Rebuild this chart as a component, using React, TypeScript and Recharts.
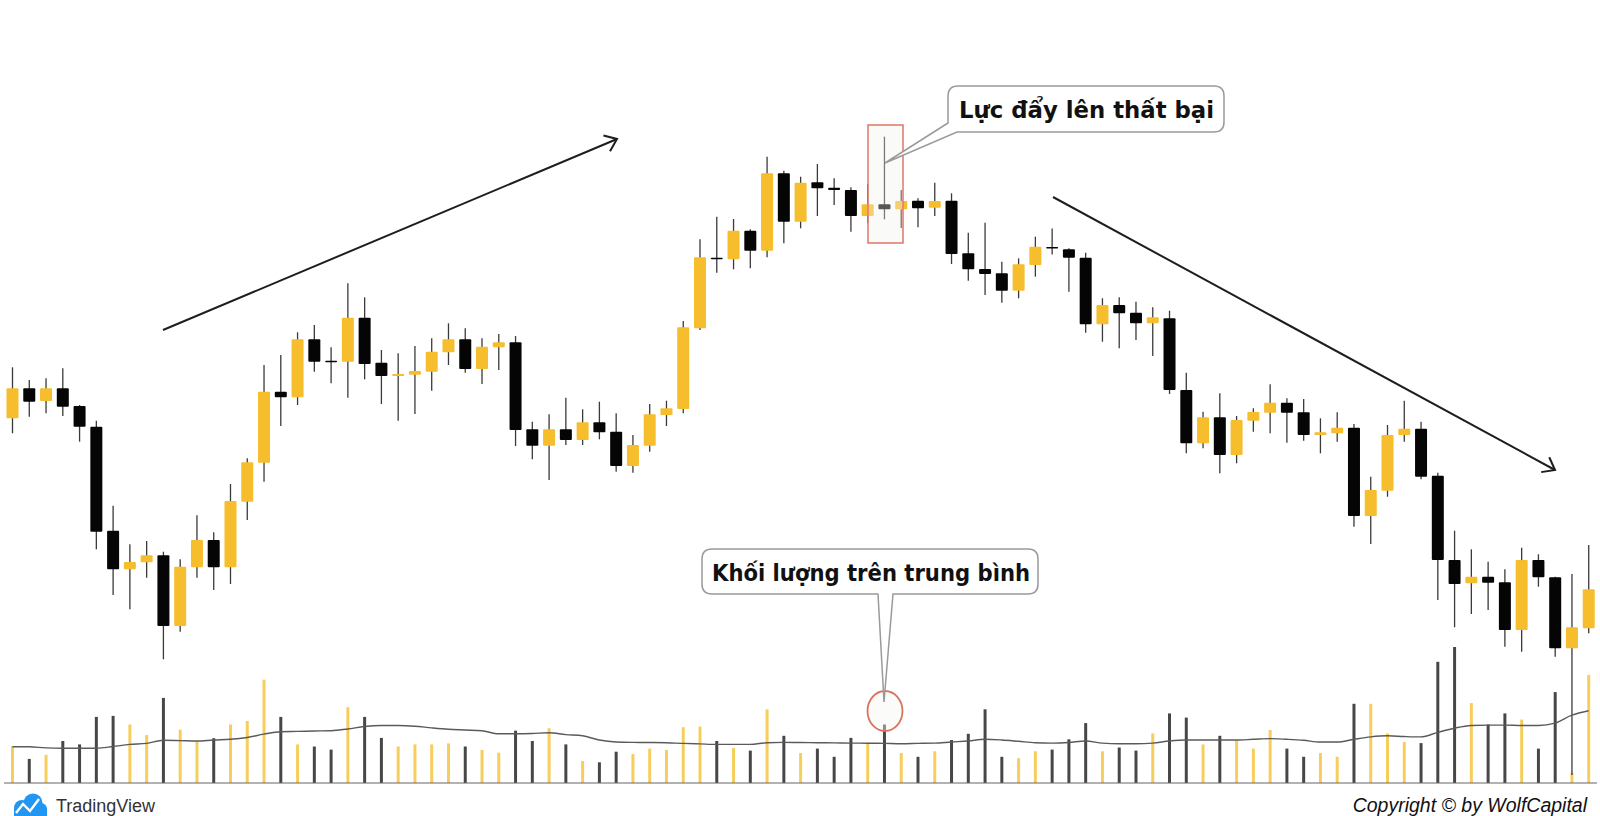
import { ComposedChart, Bar, Line, XAxis, YAxis, Cell, ReferenceLine } from 'recharts';

// one entry per session (price units, volume in lots)
const labels = Array.from({ length: 95 }, (_, i) => `${i + 1}`);

const opens = [
  38.17, 41.17, 39.9, 41.17, 39.4, 37.33, 26.93, 23.07, 23.77, 24.47, 17.4, 23.27, 26.0, 23.27, 29.83, 33.73,
  40.83, 40.27, 46.07, 43.93, 43.83, 48.23, 43.73, 42.4, 42.53, 42.83, 44.77, 46.07, 43.1, 45.27, 45.77, 37.07,
  35.43, 37.07, 36.0, 37.77, 36.83, 33.4, 35.43, 38.5, 39.1, 47.17, 54.23, 54.07, 56.93, 54.93, 62.67, 57.83,
  61.77, 61.23, 61.0, 58.4, 59.57, 59.07, 59.93, 59.23, 59.93, 54.67, 53.1, 52.67, 50.93, 53.5, 55.3, 55.07,
  54.23, 47.57, 49.5, 48.73, 47.67, 48.17, 41.0, 35.67, 38.27, 34.5, 37.93, 38.73, 39.73, 38.77, 36.5, 36.67,
  37.23, 28.4, 30.93, 36.5, 37.13, 32.43, 24.0, 21.67, 22.33, 21.77, 17.0, 24.0, 22.27, 15.17, 17.17,
];
const highs = [
  43.27, 42.0, 42.17, 43.17, 39.5, 37.93, 29.43, 25.57, 25.9, 24.83, 24.07, 28.47, 26.77, 31.6, 34.17, 43.5,
  44.5, 46.77, 47.5, 45.27, 51.67, 50.27, 45.0, 44.67, 45.4, 46.17, 47.67, 47.17, 46.17, 46.6, 46.4, 37.83,
  38.57, 40.23, 39.07, 39.83, 38.67, 36.5, 39.6, 39.93, 47.9, 56.07, 58.33, 58.1, 57.07, 64.33, 62.93, 62.33,
  63.6, 62.17, 61.27, 61.6, 66.33, 61.0, 60.17, 61.73, 60.67, 56.73, 57.73, 53.83, 54.17, 56.33, 57.15, 55.17,
  54.73, 50.17, 50.27, 49.83, 49.27, 48.93, 42.73, 38.83, 40.67, 38.4, 39.17, 41.57, 40.17, 40.1, 38.17, 38.77,
  37.6, 32.33, 37.5, 39.93, 37.83, 32.73, 26.93, 25.07, 23.83, 23.07, 25.23, 24.57, 22.33, 22.6, 25.5,
];
const lows = [
  36.67, 38.33, 38.67, 38.4, 35.83, 25.07, 20.5, 19.07, 22.23, 14.07, 16.83, 22.23, 21.0, 21.6, 28.0, 31.83,
  37.4, 39.5, 42.83, 41.67, 40.23, 42.07, 39.6, 37.93, 38.6, 40.93, 43.5, 42.73, 41.6, 43.0, 35.4, 34.07,
  32.0, 35.5, 35.5, 36.07, 32.83, 32.73, 34.83, 37.4, 38.67, 47.0, 52.73, 53.07, 53.17, 54.27, 55.67, 57.17,
  58.4, 59.5, 56.83, 57.7, 58.07, 57.2, 57.27, 58.4, 53.6, 51.93, 50.5, 49.73, 50.17, 52.33, 54.55, 50.83,
  46.73, 45.83, 45.17, 46.0, 44.4, 40.6, 34.67, 35.17, 32.67, 33.67, 36.83, 36.67, 35.73, 35.93, 34.67, 35.83,
  27.33, 25.6, 30.33, 35.83, 32.07, 20.0, 17.27, 18.6, 19.0, 15.33, 14.83, 21.33, 14.33, 2.5, 16.67,
];
const closes = [
  41.17, 39.83, 41.17, 39.33, 37.33, 26.83, 23.07, 23.8, 24.47, 17.4, 23.33, 26.0, 23.27, 29.9, 33.77, 40.83,
  40.27, 46.07, 43.83, 43.9, 48.23, 43.6, 42.4, 42.6, 42.9, 44.83, 46.07, 43.1, 45.33, 45.77, 37.0, 35.43,
  37.07, 36.0, 37.77, 36.77, 33.4, 35.5, 38.57, 39.17, 47.27, 54.27, 54.13, 56.93, 54.93, 62.67, 57.83, 61.73,
  61.17, 61.0, 58.4, 59.57, 59.07, 59.9, 59.17, 59.9, 54.6, 53.07, 52.6, 50.93, 53.57, 55.33, 55.17, 54.23,
  47.57, 49.5, 48.67, 47.67, 48.27, 41.0, 35.67, 38.27, 34.5, 38.0, 38.8, 39.73, 38.73, 36.5, 36.77, 37.23,
  28.4, 31.0, 36.5, 37.13, 32.33, 24.0, 21.6, 22.33, 21.73, 17.0, 24.0, 22.27, 15.17, 17.27, 21.07,
];
const volumes = [
  368, 241, 282, 420, 386, 661, 671, 585, 479, 851, 534, 420, 448, 585, 620, 1033,
  661, 386, 365, 334, 758, 661, 451, 365, 386, 386, 396, 365, 331, 303, 523, 420,
  548, 386, 220, 207, 313, 289, 344, 331, 558, 565, 420, 351, 324, 737, 472, 300,
  344, 262, 451, 396, 585, 300, 262, 317, 430, 492, 737, 262, 248, 317, 334, 437,
  599, 317, 355, 324, 496, 696, 654, 386, 472, 427, 344, 530, 344, 262, 300, 262,
  792, 792, 496, 410, 399, 1212, 1360, 799, 585, 696, 634, 344, 909, 103, 1081,
];
// volume moving average as drawn on the chart
const volumeMA = [
  362, 362, 351, 348, 348, 348, 365, 386, 396, 427, 424, 420, 430, 437, 455, 489,
  513, 516, 520, 523, 540, 565, 575, 575, 568, 551, 537, 530, 523, 492, 492, 495,
  503, 484, 472, 430, 410, 406, 405, 403, 396, 391, 386, 386, 386, 403, 406, 405,
  403, 401, 399, 398, 396, 393, 396, 399, 410, 420, 437, 430, 417, 403, 399, 405,
  420, 399, 393, 393, 399, 420, 430, 430, 430, 430, 437, 444, 437, 427, 410, 410,
  437, 461, 472, 465, 461, 506, 548, 575, 579, 579, 575, 575, 599, 678, 723,
];

const UP = '#f6bd2c';
const DOWN = '#050505';
const VOL_UP = '#f7cd5c';
const VOL_DOWN = '#474747';

const data = labels.map((t, i) => ({
  t,
  open: opens[i],
  high: highs[i],
  low: lows[i],
  close: closes[i],
  range: [lows[i], highs[i]],
  volume: volumes[i],
  ma: volumeMA[i],
}));

const Candle = (props: any) => {
  const { x, y, width, height, payload } = props;
  if (x == null || payload == null) return null;
  const top = Math.min(y, y + height);
  const h = Math.abs(height);
  const span = payload.high - payload.low || 1;
  const ppu = h / span;
  const cx = x + width / 2;
  const up = payload.close >= payload.open;
  const bodyTop = top + (payload.high - Math.max(payload.open, payload.close)) * ppu;
  const bodyH = Math.max(Math.abs(payload.close - payload.open) * ppu, 1.6);
  const bw = 12;
  return (
    <g>
      <line x1={cx} x2={cx} y1={top} y2={top + h} stroke="#3a3a3a" strokeWidth={1.3} />
      <rect x={cx - bw / 2} y={bodyTop} width={bw} height={bodyH} fill={up ? UP : DOWN} rx={1} />
    </g>
  );
};

// arrow head at the end of a straight line
function head(x1: number, y1: number, x2: number, y2: number, len = 14, ang = 0.65) {
  const a = Math.atan2(y1 - y2, x1 - x2);
  const p1 = [x2 + len * Math.cos(a + ang), y2 + len * Math.sin(a + ang)];
  const p2 = [x2 + len * Math.cos(a - ang), y2 + len * Math.sin(a - ang)];
  return `M${p1[0]},${p1[1]} L${x2},${y2} L${p2[0]},${p2[1]}`;
}

const upArrow = [163, 330, 617, 139];
const downArrow = [1053, 197, 1555, 470];

const labelFont = 'DejaVu Sans, Verdana, sans-serif';

export default function App() {
  return (
    <div style={{ position: 'absolute', left: 0, top: 0, width: 1600, height: 816, background: '#fff' }}>
      <ComposedChart
        width={1600}
        height={816}
        data={data}
        margin={{ top: 0, right: 3, bottom: 33, left: 4 }}
        barCategoryGap={0}
      >
        <XAxis xAxisId="p" dataKey="t" hide />
        <XAxis xAxisId="v" dataKey="t" hide />
        <YAxis yAxisId="p" domain={[1.7, 80]} hide allowDataOverflow />
        <YAxis yAxisId="v" domain={[0, 7830]} hide allowDataOverflow />
        <Bar xAxisId="v" yAxisId="v" dataKey="volume" barSize={3} isAnimationActive={false}>
          {data.map((d, i) => (
            <Cell key={i} fill={d.close >= d.open ? VOL_UP : VOL_DOWN} />
          ))}
        </Bar>
        <Line
          xAxisId="v"
          yAxisId="v"
          dataKey="ma"
          type="monotone"
          stroke="#5a5a5a"
          strokeWidth={1.4}
          dot={false}
          isAnimationActive={false}
        />
        <ReferenceLine xAxisId="v" yAxisId="v" y={0} stroke="#666" strokeWidth={1.2} />
        <Bar xAxisId="p" yAxisId="p" dataKey="range" shape={<Candle />} isAnimationActive={false} />
      </ComposedChart>

      <svg width={1600} height={816} style={{ position: 'absolute', left: 0, top: 0, pointerEvents: 'none' }}>
        {/* trend arrows */}
        <line x1={upArrow[0]} y1={upArrow[1]} x2={upArrow[2]} y2={upArrow[3]} stroke="#1e1e1e" strokeWidth={2} />
        <path d={head(upArrow[0], upArrow[1], upArrow[2], upArrow[3])} fill="none" stroke="#1e1e1e" strokeWidth={2} />
        <line x1={downArrow[0]} y1={downArrow[1]} x2={downArrow[2]} y2={downArrow[3]} stroke="#1e1e1e" strokeWidth={2} />
        <path d={head(downArrow[0], downArrow[1], downArrow[2], downArrow[3])} fill="none" stroke="#1e1e1e" strokeWidth={2} />

        {/* highlight of the failed push */}
        <rect x={868} y={125} width={35} height={118} fill="rgba(240,240,235,0.35)" stroke="#e07f72" strokeWidth={1.6} />
        <path
          d="M958,86 L1214,86 Q1224,86 1224,96 L1224,122 Q1224,132 1214,132 L957,132 L885,163 L948,123 L948,96 Q948,86 958,86 Z"
          fill="#fff"
          stroke="#9a9a9a"
          strokeWidth={1.5}
        />
        <text
          x={959}
          y={118}
          textLength={255}
          lengthAdjust="spacingAndGlyphs"
          fontFamily={labelFont}
          fontWeight="bold"
          fontSize={23.5}
          fill="#111"
        >
          Lực đẩy lên thất bại
        </text>

        {/* volume callout */}
        <ellipse cx={885} cy={711} rx={17.5} ry={20} fill="rgba(245,245,240,0.4)" stroke="#d9735e" strokeWidth={1.8} />
        <path
          d="M712,549 L1028,549 Q1038,549 1038,559 L1038,584 Q1038,594 1028,594 L893,594 L884,702 L878,594 L712,594 Q702,594 702,584 L702,559 Q702,549 712,549 Z"
          fill="#fff"
          stroke="#9a9a9a"
          strokeWidth={1.5}
        />
        <text
          x={712}
          y={581}
          textLength={318}
          lengthAdjust="spacingAndGlyphs"
          fontFamily={labelFont}
          fontWeight="bold"
          fontSize={23.5}
          fill="#111"
        >
          Khối lượng trên trung bình
        </text>

        {/* footer */}
        <g>
          <circle cx={22} cy={808} r={8} fill="#2196f3" />
          <circle cx={33} cy={803} r={9.5} fill="#2196f3" />
          <circle cx={41} cy={809} r={6} fill="#2196f3" />
          <rect x={14} y={808} width={33} height={8} fill="#2196f3" />
          <polyline points="16,813 23,804 30,811 39,799" fill="none" stroke="#fff" strokeWidth={2.4} />
        </g>
        <text x={56} y={812} fontFamily="Liberation Sans, Arial, sans-serif" fontSize={18} fill="#333">
          TradingView
        </text>
        <text
          x={1587}
          y={812}
          textAnchor="end"
          fontFamily="Liberation Sans, Arial, sans-serif"
          fontStyle="italic"
          fontSize={19.5}
          fill="#111"
        >
          Copyright © by WolfCapital
        </text>
      </svg>
    </div>
  );
}
